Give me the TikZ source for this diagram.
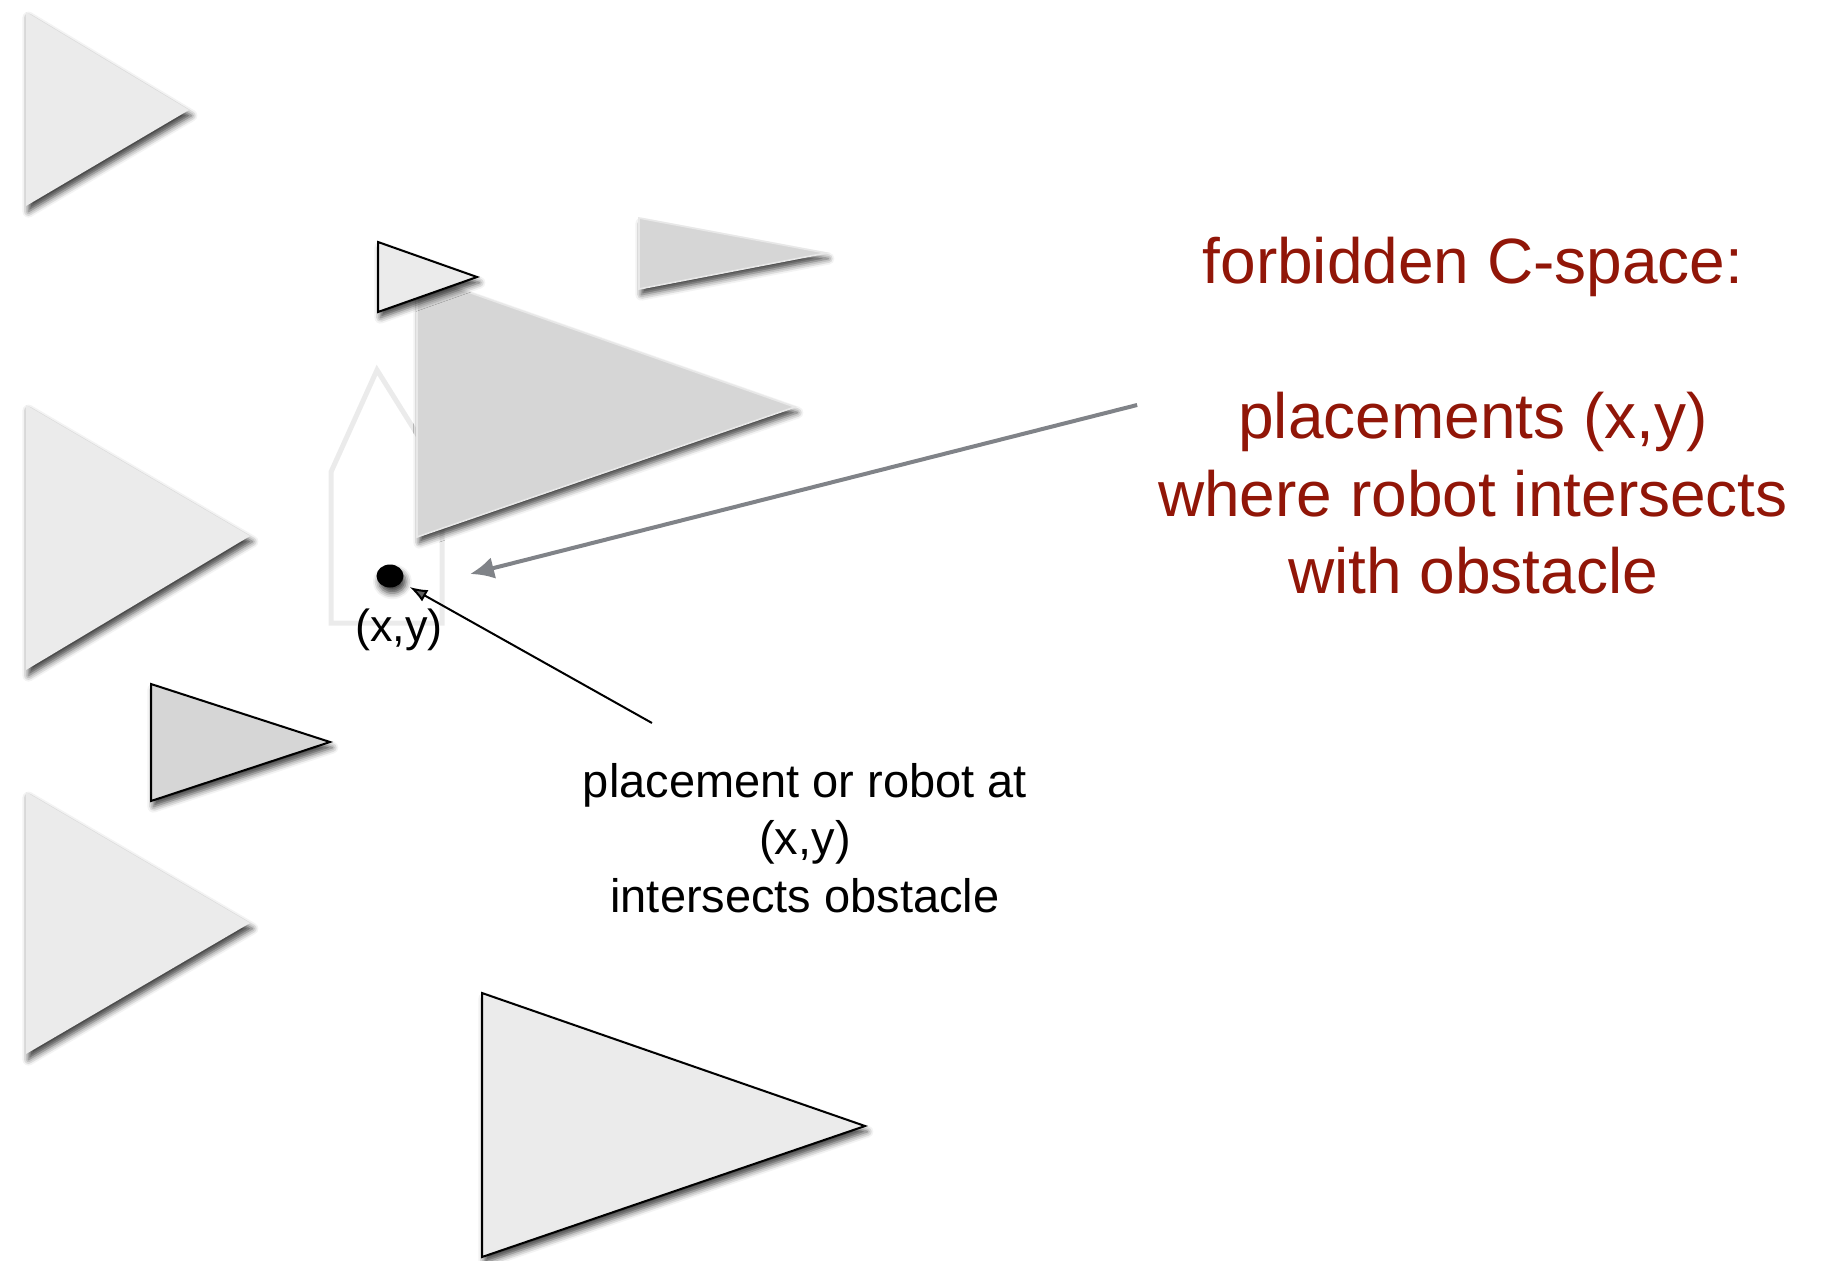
\documentclass[tikz,border=0pt]{standalone}
\usepackage{fontspec}
\setmainfont{Liberation Sans}
\usetikzlibrary{arrows.meta,shapes.geometric,shadows.blur}
\definecolor{obstlight}{RGB}{235,235,235}
\definecolor{obstdark}{RGB}{214,214,214}
\definecolor{obstedge}{RGB}{232,232,232}
\definecolor{cspacered}{RGB}{145,22,8}
\definecolor{pointergray}{RGB}{128,131,136}

\begin{document}
\begin{tikzpicture}[x=0.5pt,y=-0.5pt,
		castshadow/.style={blur shadow={shadow xshift=1.2pt,shadow yshift=-2.8pt,shadow blur radius=3pt,shadow opacity=75}},
		obst/.style={fill=obstlight,castshadow},
		obstline/.style={obst,draw=black,line width=1pt,line join=miter},
		obstdk/.style={fill=obstdark,draw=obstedge,line width=0.8pt,castshadow}]
	\useasboundingbox (0,0) rectangle (1826,1260);

	% obstacles along the left edge
	\foreach \t/\tx/\m/\b in {12/189/110/206, 405/250/536/670, 792/250/923/1054}{
		\path[obst] (26,\t) -- (\tx,\m) -- (26,\b) -- cycle;
	}
	\draw[obstline,fill=obstdark] (151,684) -- (330,742) -- (151,801) -- cycle;

	% robot at (x,y)
	\draw[obstlight,line width=2.5pt,line join=miter] (331,623) -- (331,472) -- (377,370) -- (442,474) -- (442,623) -- cycle;

	\draw[obstdk] (417,274) -- (795,407) -- (417,537) -- cycle;
	\draw[obstline] (378,242) -- (477,277) -- (378,312) -- cycle;
	\draw[obstdk] (639,218) -- (826,253) -- (639,289) -- cycle;
	\draw[obstline] (482,993) -- (865,1126) -- (482,1257) -- cycle;

	\node[ellipse,fill=black,minimum width=13.5pt,minimum height=11.5pt,inner sep=0pt,castshadow] (pos) at (390,576) {};
	\node[font=\fontsize{22.5}{27}\selectfont] (poslabel) at (399,630) {(x,y)};

	\node[align=center,font=\fontsize{23.5}{28.8}\selectfont] (note) at (805,838) {placement or robot at\\(x,y)\\intersects obstacle};
	\node[align=center,text=cspacered,font=\fontsize{32}{38.75}\selectfont] (cspace) at (1473,416) {forbidden C-space:\\[38.75pt]placements (x,y)\\where robot intersects\\with obstacle};

	% pointers
	\coordinate (tail) at (652,723);
	\coordinate (fbd) at (470,574);
	\draw[line width=1pt,-{Latex[length=9pt,width=6.5pt]},shorten >=4.5pt] (tail) -- (pos);
	\draw[pointergray,line width=2pt,-{Latex[length=12pt,width=11pt]}] ([xshift=-7pt,yshift=5.5pt]cspace.west) -- (fbd);
\end{tikzpicture}
\end{document}
